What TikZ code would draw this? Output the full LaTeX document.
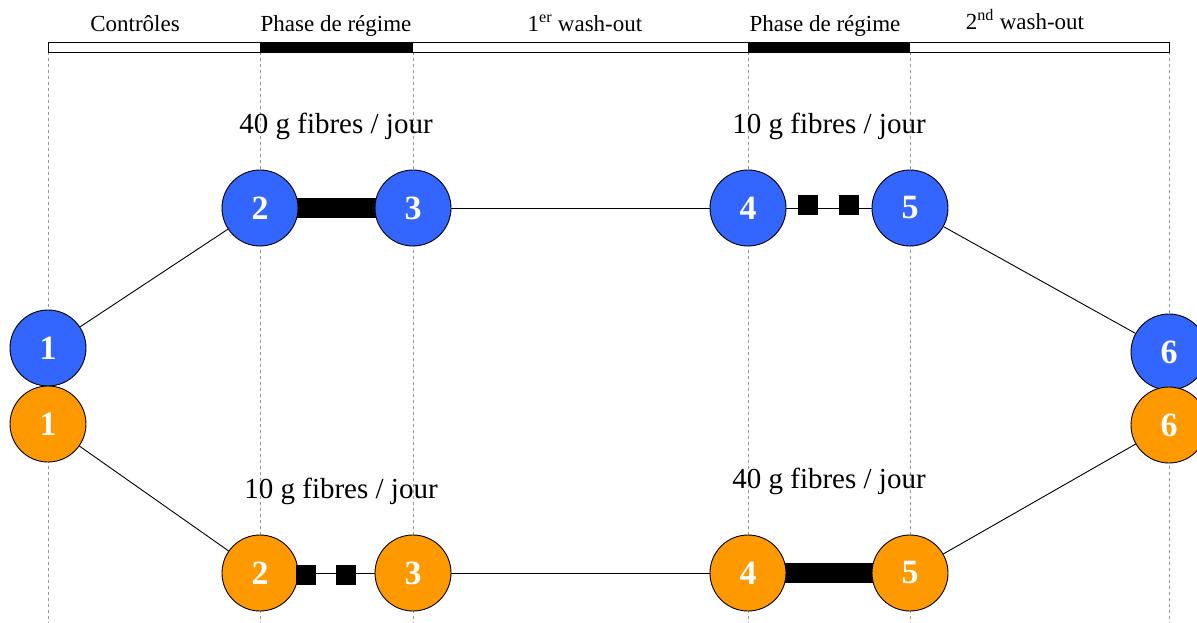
\documentclass[tikz,border=0pt]{standalone}
\usepackage{fontspec}
\setmainfont{Liberation Serif}
\usetikzlibrary{backgrounds}
\definecolor{cblue}{HTML}{3366FF}
\definecolor{corange}{HTML}{FF9900}
\begin{document}
\begin{tikzpicture}[x=1pt,y=-1pt,
  guide/.style={draw=gray!80,dashed,line width=0.8pt},
  phase/.style={font=\fontsize{23}{25}\selectfont,anchor=base},
  dose/.style={font=\fontsize{29}{31}\selectfont,anchor=base},
  bnode/.style={circle,draw=black,line width=0.9pt,fill=cblue,minimum size=76pt,inner sep=0pt,text=white,font=\fontsize{34}{36}\selectfont\bfseries},
  onode/.style={bnode,fill=corange},
  link/.style={draw=black,line width=0.9pt},
  thick bar/.style={draw=black,line width=20pt},
  sq/.style={fill=black,draw=none,minimum size=20pt,inner sep=0pt}]
\useasboundingbox (0,0) rectangle (1197,623);
% top bar
\draw[line width=0.9pt,fill=white] (48,42) rectangle (1169,52);
\fill[black] (260,42) rectangle (413,52);
\fill[black] (748,42) rectangle (910,52);
\draw[line width=0.9pt] (48,42) rectangle (1169,52);
\node[phase] (p1) at (135,32) {Contrôles};
\node[phase] (p2) at (336,32) {Phase de régime};
\node[phase] (p3) at (585,32) {1\textsuperscript{er} wash-out};
\node[phase] (p4) at (825,32) {Phase de régime};
\node[phase] (p5) at (1025,30) {2\textsuperscript{nd} wash-out};
% dose labels
\node[dose] (d1) at (336,134) {40 g fibres / jour};
\node[dose] (d2) at (829,134) {10 g fibres / jour};
\node[dose] (d3) at (341,498) {10 g fibres / jour};
\node[dose] (d4) at (829,488) {40 g fibres / jour};
% blue row
\node[bnode] (b1) at (48,348) {1};
\node[bnode] (b2) at (260,208) {2};
\node[bnode] (b3) at (413,208) {3};
\node[bnode] (b4) at (748,208) {4};
\node[bnode] (b5) at (910,208) {5};
\node[bnode] (b6) at (1169,352) {6};
% orange row
\node[onode] (o1) at (48,424) {1};
\node[onode] (o2) at (260,573) {2};
\node[onode] (o3) at (413,573) {3};
\node[onode] (o4) at (748,573) {4};
\node[onode] (o5) at (910,573) {5};
\node[onode] (o6) at (1169,425) {6};
\begin{scope}[on background layer]
  \foreach \x in {48,260,413,748,910,1169}{
    \draw[guide] (\x,52) -- (\x,623);
  }
  \draw[link] (b1) -- (b2);
  \draw[thick bar] (b2.center) -- (b3.center);
  \draw[link] (b3) -- (b4);
  \draw[link] (b4) -- (b5);
  \draw[link] (b5) -- (b6);
  \draw[link] (o1) -- (o2);
  \draw[link] (o2) -- (o3);
  \draw[link] (o3) -- (o4);
  \draw[thick bar] (o4.center) -- (o5.center);
  \draw[link] (o5) -- (o6);
\end{scope}
\node[sq] (bs1) at (808,205) {};
\node[sq] (bs2) at (849,205) {};
\node[sq] (os1) at (306,575) {};
\node[sq] (os2) at (346,575) {};
\end{tikzpicture}
\end{document}
